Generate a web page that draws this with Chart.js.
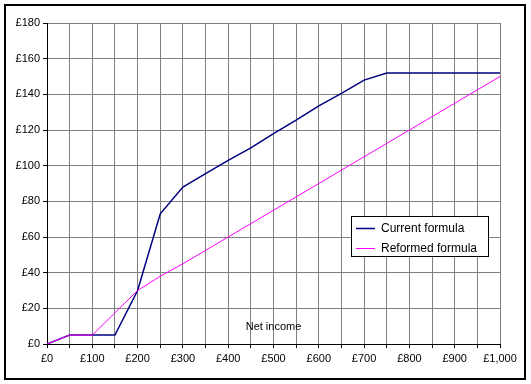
<!DOCTYPE html>
<html>
<head>
<meta charset="utf-8">
<script src="https://cdn.jsdelivr.net/npm/chart.js@4/dist/chart.umd.min.js"></script>
<style>
html,body{margin:0;padding:0;background:#fff;}
#wrap{position:relative;width:531px;height:384px;}
</style>
</head>
<body>
<div id="wrap"><canvas id="c" width="531" height="384"></canvas></div>
<script>
const incomes = [0,50,100,150,200,250,300,350,400,450,500,550,600,650,700,750,800,850,900,950,1000];
const currentFormula = [0,5,5,5,30,73,88,95.5,103,110,118,125.5,133.5,140.5,148,152,152,152,152,152,152];
const reformedFormula = [0,5,5,17.5,30,38,45,52.5,60,67.5,75,82.5,90,97.5,105,112.5,120,127.5,135,142.5,150];
const seriesLabels = ['Current formula','Reformed formula'];
const xTitle = 'Net income';

const FONT = 'Arial, "Liberation Sans", sans-serif';
const fmt = v => '£' + Number(v).toLocaleString('en-GB');

const extras = {
  id: 'extras',
  beforeDraw(chart) {
    const ctx = chart.ctx;
    ctx.save();
    ctx.fillStyle = '#fff';
    ctx.fillRect(0, 0, chart.width, chart.height);
    ctx.restore();
  },
  afterDraw(chart) {
    const ctx = chart.ctx;
    const xs = chart.scales.x, ys = chart.scales.y;
    ctx.save();
    ctx.strokeStyle = '#000';
    ctx.lineWidth = 2;
    ctx.strokeRect(5, 5, 520, 374);
    ctx.fillStyle = '#000';
    ctx.font = '11px ' + FONT;
    ctx.textAlign = 'center';
    ctx.textBaseline = 'middle';
    ctx.fillText(xTitle, xs.getPixelForValue(500), ys.getPixelForValue(9.5));
    const bx = 351.5, by = 216.5, bw = 137, bh = 40;
    ctx.fillStyle = '#fff';
    ctx.fillRect(bx, by, bw, bh);
    ctx.strokeStyle = '#000';
    ctx.lineWidth = 1;
    ctx.strokeRect(bx, by, bw, bh);
    ctx.font = '12px ' + FONT;
    ctx.textAlign = 'left';
    chart.data.datasets.forEach((ds, i) => {
      const ly = 228.5 + i * 20;
      ctx.strokeStyle = ds.borderColor;
      ctx.lineWidth = ds.borderWidth;
      ctx.beginPath();
      ctx.moveTo(356, ly);
      ctx.lineTo(375, ly);
      ctx.stroke();
      ctx.fillStyle = '#000';
      ctx.fillText(ds.label, 381, ly + 0.5);
    });
    ctx.restore();
  }
};

new Chart(document.getElementById('c'), {
  type: 'line',
  data: {
    datasets: [
      {
        label: seriesLabels[0],
        data: incomes.map((x, i) => ({x: x, y: currentFormula[i]})),
        borderColor: '#000080',
        borderWidth: 1.5,
        pointRadius: 0,
        tension: 0,
        fill: false,
        order: 2
      },
      {
        label: seriesLabels[1],
        data: incomes.map((x, i) => ({x: x, y: reformedFormula[i]})),
        borderColor: '#FF00FF',
        borderWidth: 1,
        pointRadius: 0,
        tension: 0,
        fill: false,
        order: 1
      }
    ]
  },
  options: {
    responsive: false,
    animation: false,
    layout: { padding: { left: 0, top: 23, right: 31, bottom: 0 } },
    plugins: {
      legend: { display: false },
      tooltip: { enabled: false }
    },
    scales: {
      x: {
        type: 'linear',
        min: 0, max: 1000,
        afterFit(s) { s.height = 40; },
        ticks: {
          stepSize: 50,
          autoSkip: false,
          maxRotation: 0,
          padding: 4,
          color: '#000',
          font: { family: FONT, size: 11 },
          callback: v => (v % 100 === 0 ? fmt(v) : '')
        },
        grid: { color: '#808080', lineWidth: 1, tickLength: 4, tickColor: '#000' },
        border: { color: '#000', width: 1 }
      },
      y: {
        min: 0, max: 180,
        afterFit(s) { s.width = 47; },
        ticks: {
          stepSize: 20,
          padding: 3,
          color: '#000',
          font: { family: FONT, size: 11 },
          callback: v => fmt(v)
        },
        grid: { color: '#808080', lineWidth: 1, tickLength: 4, tickColor: '#000' },
        border: { color: '#000', width: 1 }
      }
    }
  },
  plugins: [extras]
});
</script>
</body>
</html>
